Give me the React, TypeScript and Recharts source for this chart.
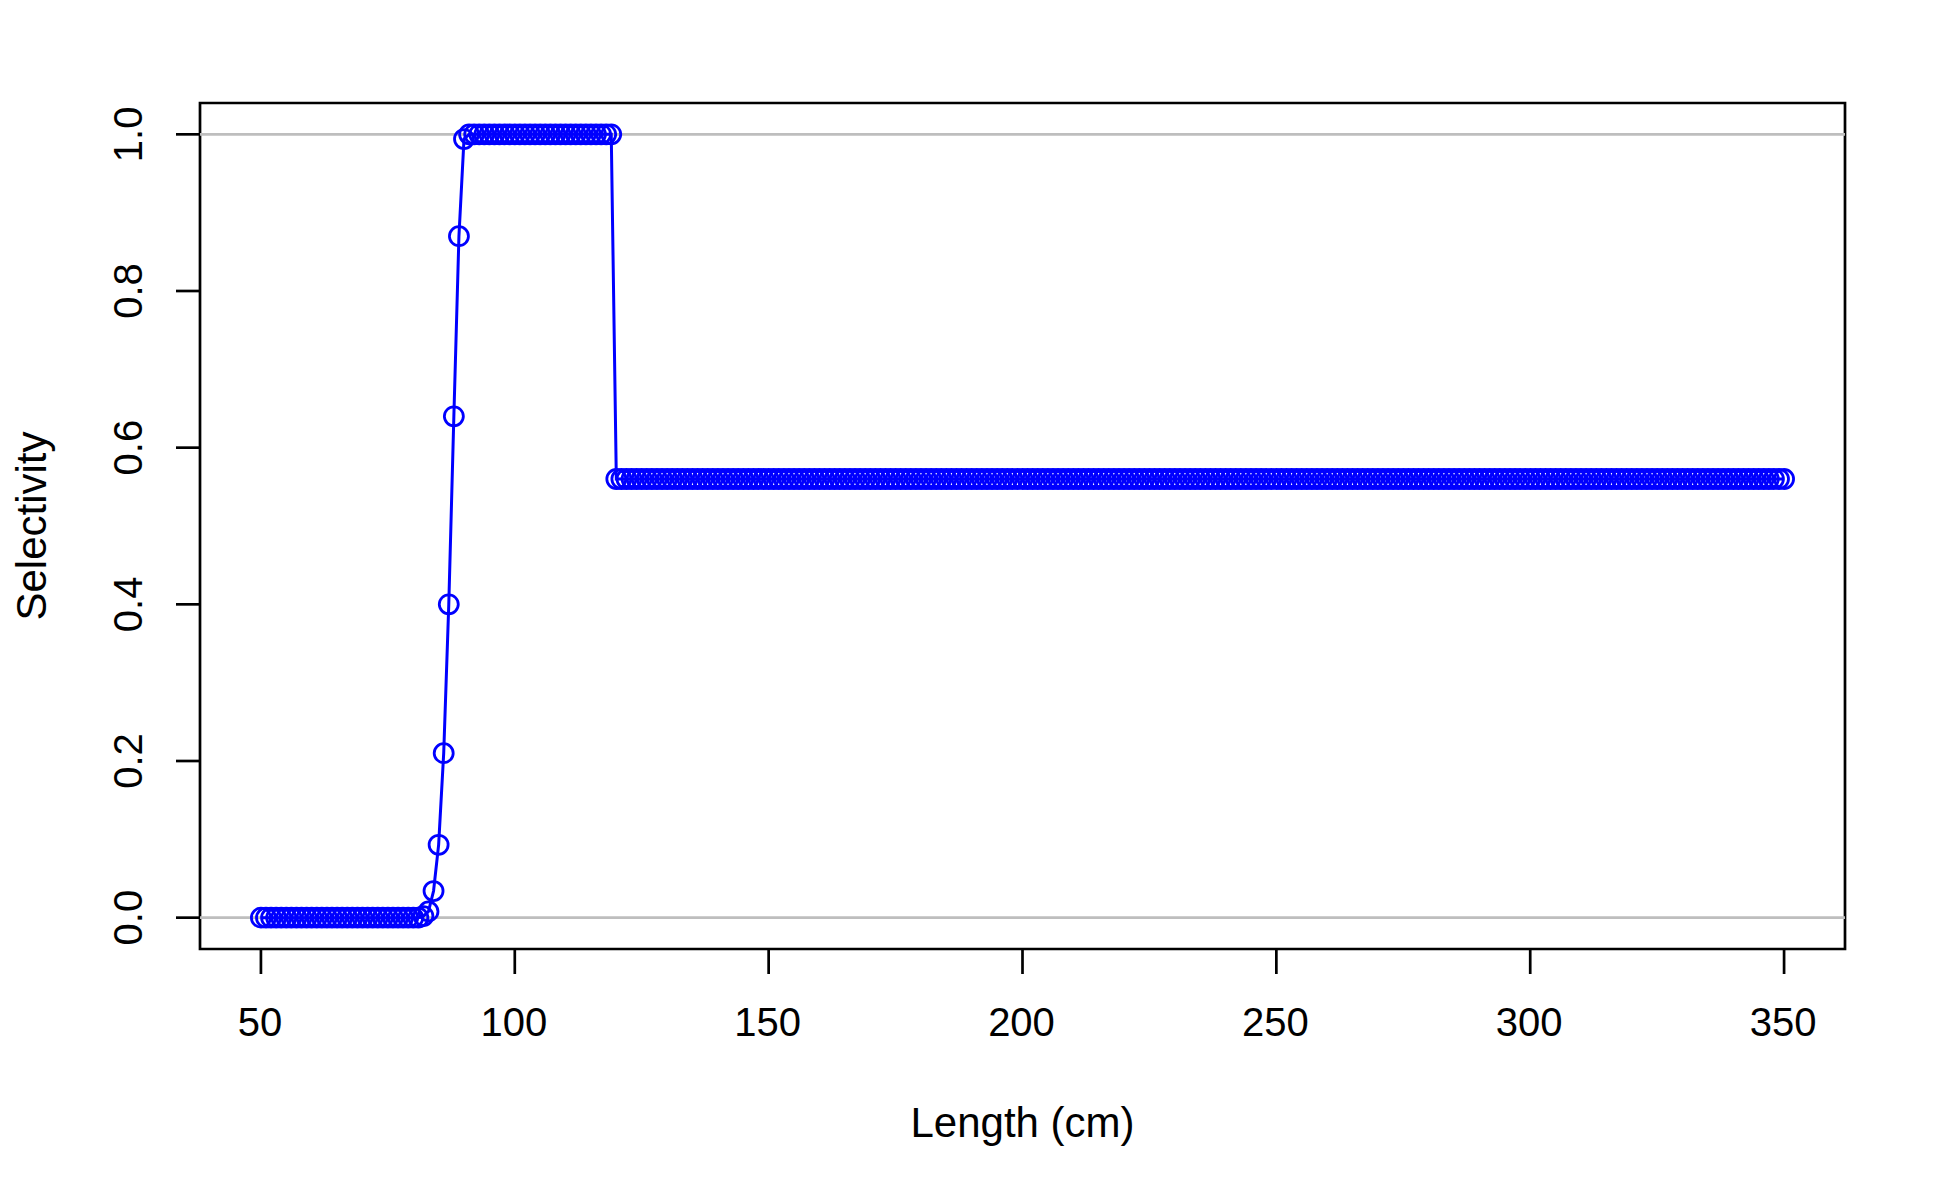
import React from 'react';
import { ComposedChart, Line, XAxis, YAxis, ReferenceLine, ReferenceArea, Label } from 'recharts';

const lengths: number[] = [
  50, 51, 52, 53, 54, 55, 56, 57, 58, 59,
  60, 61, 62, 63, 64, 65, 66, 67, 68, 69,
  70, 71, 72, 73, 74, 75, 76, 77, 78, 79,
  80, 81, 82, 83, 84, 85, 86, 87, 88, 89,
  90, 91, 92, 93, 94, 95, 96, 97, 98, 99,
  100, 101, 102, 103, 104, 105, 106, 107, 108, 109,
  110, 111, 112, 113, 114, 115, 116, 117, 118, 119,
  120, 121, 122, 123, 124, 125, 126, 127, 128, 129,
  130, 131, 132, 133, 134, 135, 136, 137, 138, 139,
  140, 141, 142, 143, 144, 145, 146, 147, 148, 149,
  150, 151, 152, 153, 154, 155, 156, 157, 158, 159,
  160, 161, 162, 163, 164, 165, 166, 167, 168, 169,
  170, 171, 172, 173, 174, 175, 176, 177, 178, 179,
  180, 181, 182, 183, 184, 185, 186, 187, 188, 189,
  190, 191, 192, 193, 194, 195, 196, 197, 198, 199,
  200, 201, 202, 203, 204, 205, 206, 207, 208, 209,
  210, 211, 212, 213, 214, 215, 216, 217, 218, 219,
  220, 221, 222, 223, 224, 225, 226, 227, 228, 229,
  230, 231, 232, 233, 234, 235, 236, 237, 238, 239,
  240, 241, 242, 243, 244, 245, 246, 247, 248, 249,
  250, 251, 252, 253, 254, 255, 256, 257, 258, 259,
  260, 261, 262, 263, 264, 265, 266, 267, 268, 269,
  270, 271, 272, 273, 274, 275, 276, 277, 278, 279,
  280, 281, 282, 283, 284, 285, 286, 287, 288, 289,
  290, 291, 292, 293, 294, 295, 296, 297, 298, 299,
  300, 301, 302, 303, 304, 305, 306, 307, 308, 309,
  310, 311, 312, 313, 314, 315, 316, 317, 318, 319,
  320, 321, 322, 323, 324, 325, 326, 327, 328, 329,
  330, 331, 332, 333, 334, 335, 336, 337, 338, 339,
  340, 341, 342, 343, 344, 345, 346, 347, 348, 349,
  350,
];

const selectivity: number[] = [
  0, 0, 0, 0, 0, 0, 0, 0, 0, 0,
  0, 0, 0, 0, 0, 0, 0, 0, 0, 0,
  0, 0, 0, 0, 0, 0, 0, 0, 0, 0,
  0, 0, 0.002, 0.008, 0.034, 0.093, 0.21, 0.4, 0.64, 0.87,
  0.994, 1, 1, 1, 1, 1, 1, 1, 1, 1,
  1, 1, 1, 1, 1, 1, 1, 1, 1, 1,
  1, 1, 1, 1, 1, 1, 1, 1, 1, 1,
  0.56, 0.56, 0.56, 0.56, 0.56, 0.56, 0.56, 0.56, 0.56, 0.56,
  0.56, 0.56, 0.56, 0.56, 0.56, 0.56, 0.56, 0.56, 0.56, 0.56,
  0.56, 0.56, 0.56, 0.56, 0.56, 0.56, 0.56, 0.56, 0.56, 0.56,
  0.56, 0.56, 0.56, 0.56, 0.56, 0.56, 0.56, 0.56, 0.56, 0.56,
  0.56, 0.56, 0.56, 0.56, 0.56, 0.56, 0.56, 0.56, 0.56, 0.56,
  0.56, 0.56, 0.56, 0.56, 0.56, 0.56, 0.56, 0.56, 0.56, 0.56,
  0.56, 0.56, 0.56, 0.56, 0.56, 0.56, 0.56, 0.56, 0.56, 0.56,
  0.56, 0.56, 0.56, 0.56, 0.56, 0.56, 0.56, 0.56, 0.56, 0.56,
  0.56, 0.56, 0.56, 0.56, 0.56, 0.56, 0.56, 0.56, 0.56, 0.56,
  0.56, 0.56, 0.56, 0.56, 0.56, 0.56, 0.56, 0.56, 0.56, 0.56,
  0.56, 0.56, 0.56, 0.56, 0.56, 0.56, 0.56, 0.56, 0.56, 0.56,
  0.56, 0.56, 0.56, 0.56, 0.56, 0.56, 0.56, 0.56, 0.56, 0.56,
  0.56, 0.56, 0.56, 0.56, 0.56, 0.56, 0.56, 0.56, 0.56, 0.56,
  0.56, 0.56, 0.56, 0.56, 0.56, 0.56, 0.56, 0.56, 0.56, 0.56,
  0.56, 0.56, 0.56, 0.56, 0.56, 0.56, 0.56, 0.56, 0.56, 0.56,
  0.56, 0.56, 0.56, 0.56, 0.56, 0.56, 0.56, 0.56, 0.56, 0.56,
  0.56, 0.56, 0.56, 0.56, 0.56, 0.56, 0.56, 0.56, 0.56, 0.56,
  0.56, 0.56, 0.56, 0.56, 0.56, 0.56, 0.56, 0.56, 0.56, 0.56,
  0.56, 0.56, 0.56, 0.56, 0.56, 0.56, 0.56, 0.56, 0.56, 0.56,
  0.56, 0.56, 0.56, 0.56, 0.56, 0.56, 0.56, 0.56, 0.56, 0.56,
  0.56, 0.56, 0.56, 0.56, 0.56, 0.56, 0.56, 0.56, 0.56, 0.56,
  0.56, 0.56, 0.56, 0.56, 0.56, 0.56, 0.56, 0.56, 0.56, 0.56,
  0.56, 0.56, 0.56, 0.56, 0.56, 0.56, 0.56, 0.56, 0.56, 0.56,
  0.56,
];

const xTicks: number[] = [50, 100, 150, 200, 250, 300, 350];
const yTicks: number[] = [0, 0.2, 0.4, 0.6, 0.8, 1.0];
const xDomain: [number, number] = [38, 362];
const yDomain: [number, number] = [-0.04, 1.04];
const xTitle = 'Length (cm)';
const yTitle = 'Selectivity';

const data = lengths.map((l, i) => ({ length: l, sel: selectivity[i] }));

const FONT = '"Liberation Sans", Arial, Helvetica, sans-serif';
const FS = 40;
const TFS = 42;
const BLUE = '#0000FF';

const XTick = (props: any) => {
  const { x, y, payload } = props;
  return (
    <text x={x - 1} y={y + 62} textAnchor="middle" fontSize={FS} fontFamily={FONT} fill="#000">
      {String(payload.value)}
    </text>
  );
};

const YTick = (props: any) => {
  const { x, y, payload } = props;
  const bx = x - 34;
  return (
    <text
      x={bx}
      y={y}
      textAnchor="middle"
      fontSize={FS}
      fontFamily={FONT}
      fill="#000"
      transform={`rotate(-90, ${bx}, ${y})`}
    >
      {Number(payload.value).toFixed(1)}
    </text>
  );
};

const XTitle = (props: any) => {
  const vb = props.viewBox || {};
  const cx = vb.x + vb.width / 2;
  return (
    <text x={cx} y={vb.y + 188} textAnchor="middle" fontSize={TFS} fontFamily={FONT} fill="#000">
      {xTitle}
    </text>
  );
};

const YTitle = (props: any) => {
  const vb = props.viewBox || {};
  const cy = vb.y + vb.height / 2;
  const bx = vb.x + 46;
  return (
    <text
      x={bx}
      y={cy}
      textAnchor="middle"
      fontSize={TFS}
      fontFamily={FONT}
      fill="#000"
      transform={`rotate(-90, ${bx}, ${cy})`}
    >
      {yTitle}
    </text>
  );
};

export default function App() {
  return (
    <div style={{ position: 'absolute', left: 0, top: 0, width: 1950, height: 1200, background: '#fff' }}>
      <ComposedChart
        width={1950}
        height={1200}
        data={data}
        margin={{ top: 103, right: 105, bottom: 0, left: 0 }}
      >
        <XAxis
          type="number"
          dataKey="length"
          domain={xDomain}
          ticks={xTicks}
          allowDataOverflow
          height={251}
          axisLine={false}
          tickSize={25}
          tickMargin={0}
          tickLine={{ stroke: '#000', strokeWidth: 2.7 }}
          tick={<XTick />}
          interval={0}
        >
          <Label content={<XTitle />} />
        </XAxis>
        <YAxis
          type="number"
          domain={yDomain}
          ticks={yTicks}
          allowDataOverflow
          width={200}
          axisLine={false}
          tickSize={24}
          tickMargin={0}
          tickLine={{ stroke: '#000', strokeWidth: 2.7 }}
          tick={<YTick />}
          interval={0}
        >
          <Label content={<YTitle />} />
        </YAxis>
        <ReferenceLine y={0} stroke="#BEBEBE" strokeWidth={2.7} />
        <ReferenceLine y={1} stroke="#BEBEBE" strokeWidth={2.7} />
        <Line
          type="linear"
          dataKey="sel"
          stroke={BLUE}
          strokeWidth={3}
          isAnimationActive={false}
          dot={{ r: 9.5, stroke: BLUE, strokeWidth: 2.8, fill: 'none' }}
        />
        <ReferenceArea
          x1={xDomain[0]}
          x2={xDomain[1]}
          y1={yDomain[0]}
          y2={yDomain[1]}
          fill="none"
          fillOpacity={0}
          stroke="#000"
          strokeWidth={2.7}
          ifOverflow="visible"
        />
      </ComposedChart>
    </div>
  );
}
